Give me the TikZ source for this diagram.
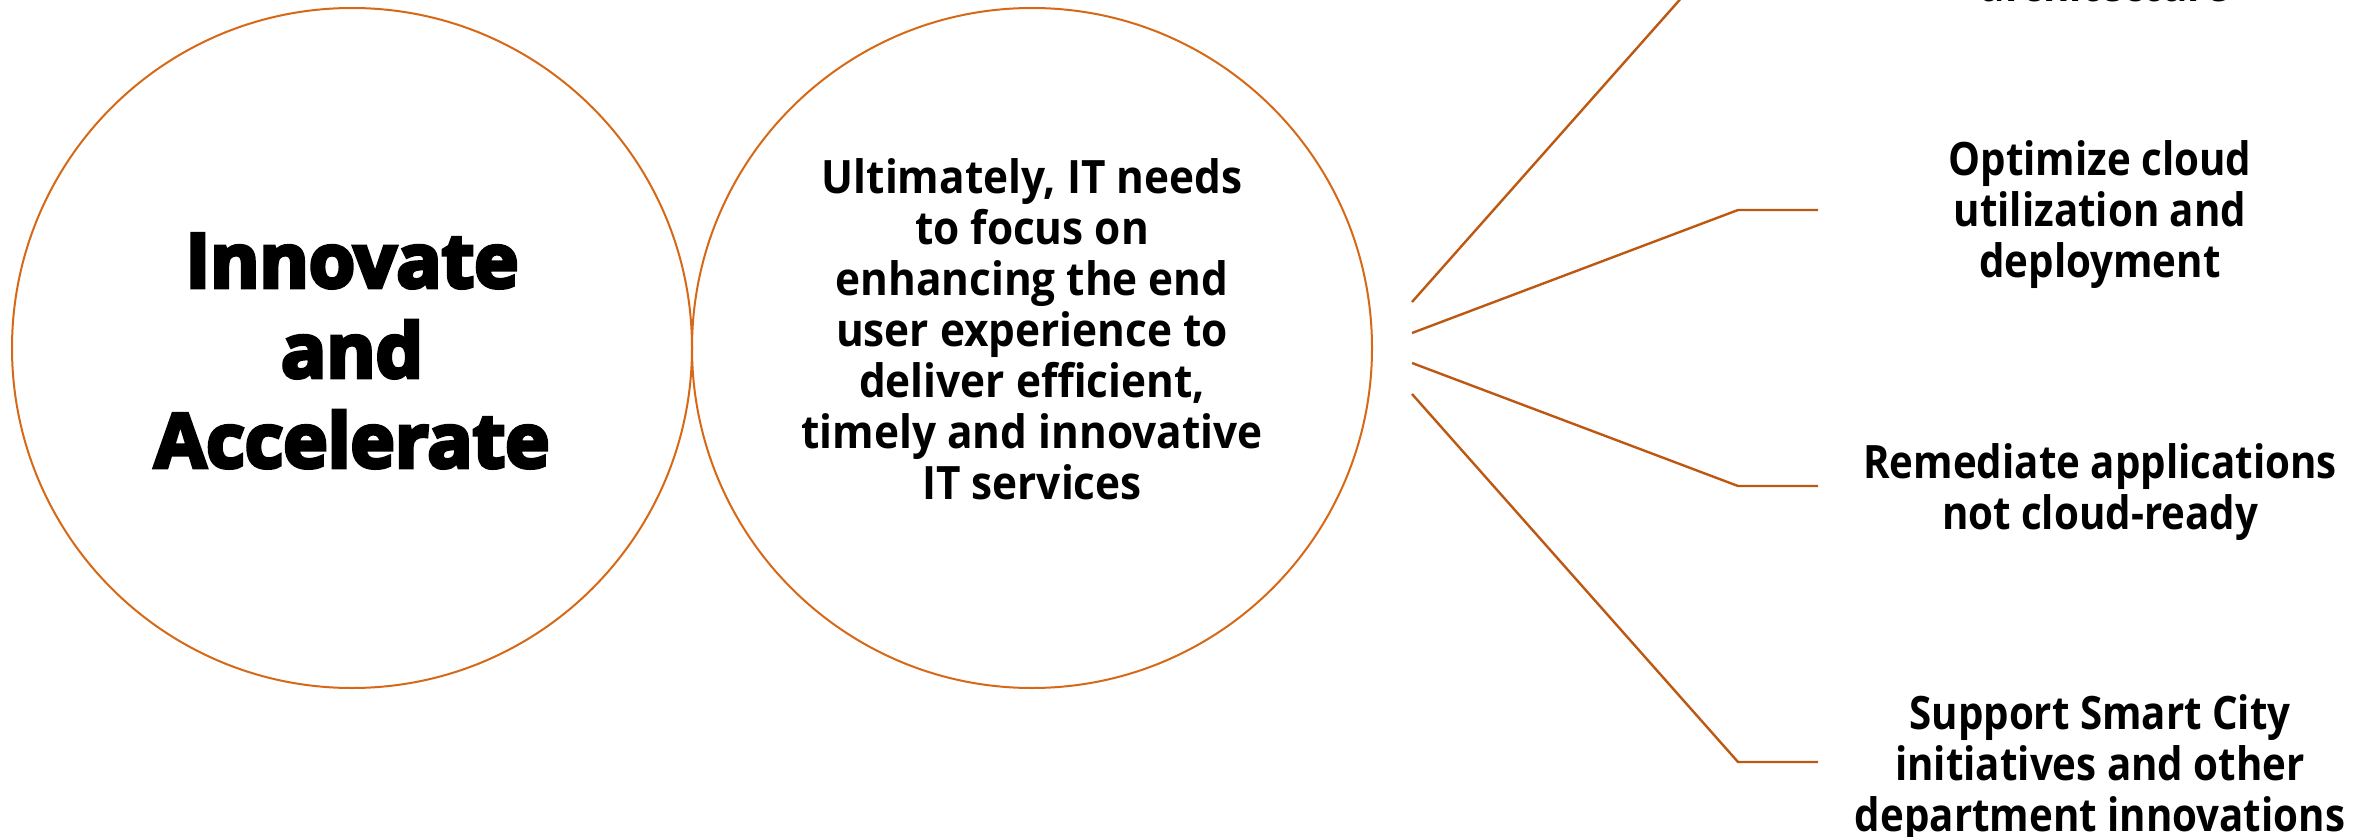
\documentclass[tikz,border=0pt]{standalone}
\usepackage{fontspec}
\setmainfont{Open Sans}[FakeStretch=0.92]
\newfontfamily\rightfont{Open Sans}[FakeStretch=0.875]
\newfontfamily\titlefont{Open Sans}[BoldFeatures={FakeBold=5}]
\definecolor{ringc}{RGB}{214,104,22}
\definecolor{linec}{RGB}{188,88,18}
\begin{document}
\begin{tikzpicture}[x=1pt,y=-1pt,
  ring/.style={draw=ringc, line width=2pt, circle, minimum size=680pt, inner sep=0pt},
  conn/.style={draw=linec, line width=2.4pt},
  lbl/.style={align=center, font=\fontsize{46}{51}\selectfont\bfseries, text=black, inner sep=0pt},
  rlbl/.style={align=center, font=\rightfont\fontsize{46}{51}\selectfont\bfseries, text=black, inner sep=0pt},
  ttl/.style={align=center, font=\titlefont\fontsize{75}{90}\selectfont\bfseries, text=black, inner sep=0pt}]
\clip (0,0) rectangle (2371,837);
\node[ring] (c1) at (352,348) {};
\node[ring] (c2) at (1032,348) {};
\node[ttl] (t1) at (352,351) {Innovate\\and\\Accelerate};
\node[lbl] (t2) at (1032,329) {Ultimately, IT needs\\to focus on\\enhancing the end\\user experience to\\deliver efficient,\\timely and innovative\\IT services};
% connector coordinates
\coordinate (s1) at (1412,302);
\coordinate (s2) at (1412,333);
\coordinate (s3) at (1412,363);
\coordinate (s4) at (1412,394);
\coordinate (b1) at (1738,-66);
\coordinate (b2) at (1738,210);
\coordinate (b3) at (1738,486);
\coordinate (b4) at (1738,762);
\coordinate (h1) at (1818,-66);
\coordinate (h2) at (1818,210);
\coordinate (h3) at (1818,486);
\coordinate (h4) at (1818,762);
\draw[conn] (s1) -- (b1) -- (h1);
\draw[conn] (s2) -- (b2) -- (h2);
\draw[conn] (s3) -- (b3) -- (h3);
\draw[conn] (s4) -- (b4) -- (h4);
% labels
\node[rlbl] (l1) at (2105,-67) {Modernize\\infrastructure and\\architecture};
\node[rlbl] (l2) at (2100,215) {Optimize cloud\\utilization and\\deployment};
\node[rlbl] (l3) at (2100,492) {Remediate applications\\not cloud-ready};
\node[rlbl] (l4) at (2100,769) {Support Smart City\\initiatives and other\\department innovations};
\end{tikzpicture}
\end{document}
